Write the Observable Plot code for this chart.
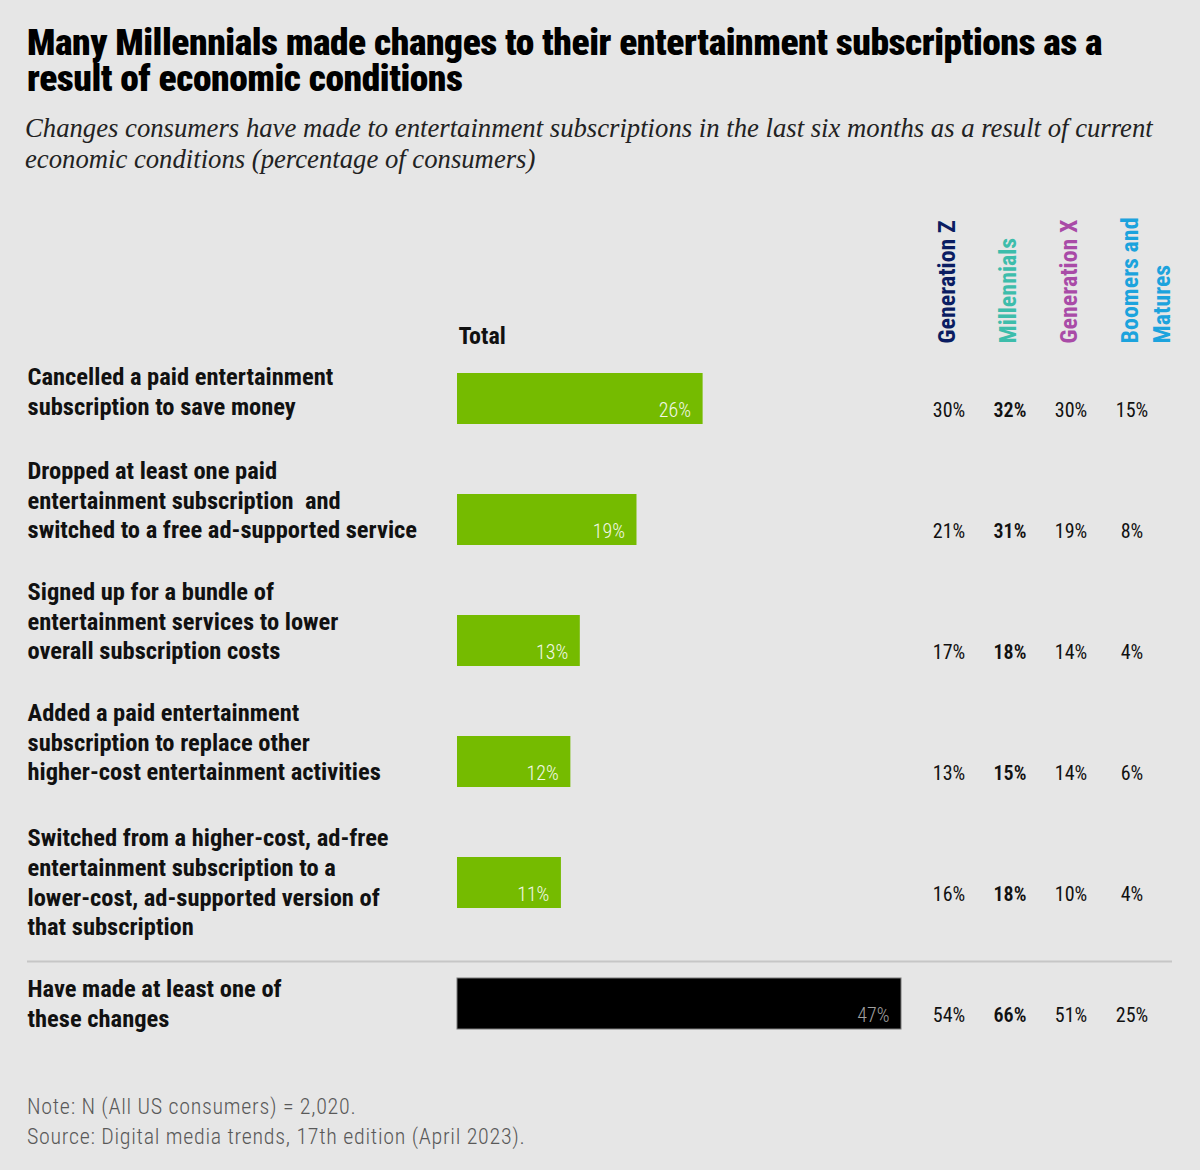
<!DOCTYPE html>
<html>
<head>
<meta charset="utf-8">
<script src="https://cdn.jsdelivr.net/npm/d3@7"></script>
<script src="https://cdn.jsdelivr.net/npm/@observablehq/plot@0.6"></script>
<style>
  html, body { margin: 0; padding: 0; background: #e6e6e6; }
  #root { position: relative; width: 1200px; height: 1170px; overflow: hidden; background: #e6e6e6; }
  .title { position: absolute; left: 27px; font-family: Roboto, sans-serif; font-stretch: 75%; font-weight: 900; font-size: 37.5px; line-height: 34px; color: #000; letter-spacing: -0.45px; white-space: nowrap; }
  .subtitle { position: absolute; left: 25px; top: 113px; font-family: "Liberation Serif", serif; font-style: italic; font-size: 26.7px; line-height: 31px; color: #222; white-space: nowrap; }
  .note { position: absolute; left: 27px; top: 1092px; font-family: Roboto, sans-serif; font-stretch: 75%; font-weight: 350; font-size: 22px; line-height: 30px; letter-spacing: 0.7px; color: #595959; white-space: nowrap; }
  #left { position: absolute; left: 0; top: 190px; }
  #right { position: absolute; left: 917px; top: 190px; }
</style>
</head>
<body>
<div id="root">
  <div class="title" style="top: 25px">Many Millennials made changes to their entertainment subscriptions as a</div>
  <div class="title" style="top: 61px">result of economic conditions</div>
  <div class="subtitle">Changes consumers have made to entertainment subscriptions in the last six months as a result of current<br>economic conditions (percentage of consumers)</div>
  <div id="left"></div>
  <div id="right"></div>
  <div class="note">Note: N (All US consumers) = 2,020.<br>Source: Digital media trends, 17th edition (April 2023).</div>
</div>
<script>
// ---- data ----
const categories = [
  "Cancelled a paid entertainment\nsubscription to save money",
  "Dropped at least one paid\nentertainment subscription  and\nswitched to a free ad-supported service",
  "Signed up for a bundle of\nentertainment services to lower\noverall subscription costs",
  "Added a paid entertainment\nsubscription to replace other\nhigher-cost entertainment activities",
  "Switched from a higher-cost, ad-free\nentertainment subscription to a\nlower-cost, ad-supported version of\nthat subscription",
  "Have made at least one of\nthese changes"
];
const total       = [26, 19, 13, 12, 11, 47];
const genZ        = [30, 21, 17, 13, 16, 54];
const millennials = [32, 31, 18, 15, 18, 66];
const genX        = [30, 19, 14, 14, 10, 51];
const boomers     = [15,  8,  4,  6,  4, 25];
const generations = ["Generation Z", "Millennials", "Generation X", "Boomers and\nMatures"];
const genColors   = ["#0b1d62", "#3dbdab", "#a94ba7", "#1ca3dd"];

// ---- derived tables ----
const rows = categories.map((label, i) => ({label, index: i, total: total[i], summary: i === categories.length - 1, lines: label.split("\n").length}));
const genSeries = [genZ, millennials, genX, boomers];
const cells = [];
categories.forEach((label, i) => generations.forEach((g, j) => cells.push({label, gen: g, value: genSeries[j][i]})));

// ---- layout ----
const H = 870;
const yRange = [182, 839];
const padInner = 0.58;
const step = (yRange[1] - yRange[0]) / (categories.length - padInner);
const bw = step * (1 - padInner);
const gap = step - bw;
const baseStyle = {background: "transparent", fontFamily: "Roboto, sans-serif", fontStretch: "75%", overflow: "visible"};
const yScale = {type: "band", domain: categories, range: yRange, paddingInner: padInner, paddingOuter: 0, axis: null};
const labelOpts = {y: "label", text: "label", frameAnchor: "left", textAnchor: "start", lineAnchor: "middle", lineHeight: 1.22, fontSize: 24.5, fontWeight: 700, fill: "#111"};

const left = Plot.plot({
  width: 917, height: H,
  marginLeft: 27, marginRight: 0, marginTop: 153, marginBottom: 0,
  style: baseStyle,
  x: {domain: [0, 47], range: [457, 901], axis: null},
  y: yScale,
  marks: [
    Plot.ruleX(rows.slice(0, 4), {x: () => 0, y: "label", insetBottom: -gap, stroke: "#b9b9b9", strokeWidth: 1.5}),
    Plot.ruleX(rows.slice(4, 5), {x: () => 0, y: "label", stroke: "#b9b9b9", strokeWidth: 1.5}),
    Plot.ruleY(rows.slice(5), {y: "label", dy: -42.5, stroke: "#c6c6c6", strokeWidth: 2}),
    Plot.barX(rows.filter(d => !d.summary), {x: "total", y: "label", fill: "#75bb00"}),
    Plot.barX(rows.filter(d => d.summary), {x: "total", y: "label", fill: "#000", stroke: "#7a7a7a", strokeWidth: 1}),
    Plot.text(rows.filter(d => d.index === 0), {...labelOpts, dy: -9}),
    Plot.text(rows.filter(d => d.lines === 3), {...labelOpts, dy: -21}),
    Plot.text(rows.filter(d => d.lines !== 3 && d.index !== 0), {...labelOpts, dy: -2}),
    Plot.text(rows.filter(d => !d.summary), {x: "total", y: "label", text: d => d.total + "%", textAnchor: "end", dx: -12, dy: 12, fontSize: 20, fontWeight: 300, fill: "#f2f8e6"}),
    Plot.text(rows.filter(d => d.summary), {x: "total", y: "label", text: d => d.total + "%", textAnchor: "end", dx: -12, dy: 12, fontSize: 20, fontWeight: 300, fill: "#a0a0a0"}),
    Plot.text(["Total"], {x: () => 0, text: d => d, frameAnchor: "top", textAnchor: "start", lineAnchor: "bottom", dx: 1, fontSize: 24, fontWeight: 700, fill: "#111"})
  ]
});
document.getElementById("left").appendChild(left);

const right = Plot.plot({
  width: 255, height: H,
  marginLeft: 0, marginRight: 0, marginTop: 153, marginBottom: 0,
  style: baseStyle,
  x: {type: "band", domain: generations, range: [0, 245], padding: 0, axis: null},
  y: yScale,
  color: {type: "identity"},
  marks: [
    Plot.ruleY(rows.slice(5), {y: "label", dy: -42.5, stroke: "#c6c6c6", strokeWidth: 2}),
    Plot.text(generations, {x: d => d, text: d => d, frameAnchor: "top", rotate: -90, textAnchor: "start", lineAnchor: "top", lineHeight: 1.33, dx: -17, fontSize: 24, fontWeight: 700, fill: (d, i) => genColors[i]}),
    Plot.text(cells.filter(d => d.gen !== "Millennials"), {x: "gen", y: "label", text: d => d.value + "%", dy: 12, fontSize: 20, fontWeight: 400, fill: "#111"}),
    Plot.text(cells.filter(d => d.gen === "Millennials"), {x: "gen", y: "label", text: d => d.value + "%", dy: 12, fontSize: 20, fontWeight: 600, fill: "#111"})
  ]
});
document.getElementById("right").appendChild(right);
</script>
</body>
</html>
